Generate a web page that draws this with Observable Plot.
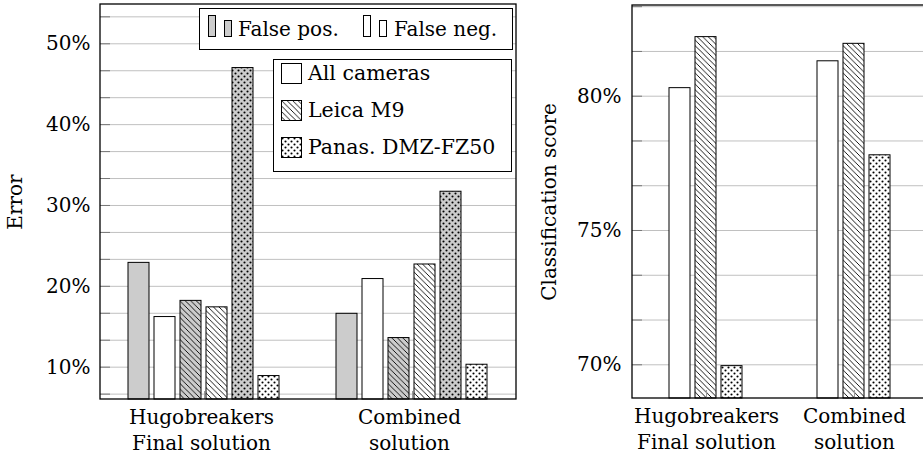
<!DOCTYPE html>
<html><head><meta charset="utf-8">
<script src="https://cdn.jsdelivr.net/npm/d3@7"></script>
<script src="https://cdn.jsdelivr.net/npm/@observablehq/plot@0.6"></script>
<style>
body{margin:0;background:#fff;overflow:hidden}
#wrap{position:relative;width:923px;height:460px;overflow:hidden;font-family:"DejaVu Serif",serif;background:#fff}
#wrap svg{max-width:none}
.box{position:absolute;background:#fff;border:1.2px solid #000;box-sizing:border-box;font-size:20px;color:#000}
.lbl{position:absolute;white-space:nowrap}
</style></head>
<body>
<svg width="0" height="0" style="position:absolute">
<defs>
<pattern id="hatchGray" patternUnits="userSpaceOnUse" width="5.5" height="5.5">
 <rect width="5.5" height="5.5" fill="#cccccc"/>
 <path d="M-1,-1 L6.5,6.5 M-1,4.5 L1,6.5 M4.5,-1 L6.5,1" stroke="#000" stroke-width="0.9"/>
</pattern>
<pattern id="hatchWhite" patternUnits="userSpaceOnUse" width="5.5" height="5.5">
 <rect width="5.5" height="5.5" fill="#ffffff"/>
 <path d="M-1,-1 L6.5,6.5 M-1,4.5 L1,6.5 M4.5,-1 L6.5,1" stroke="#000" stroke-width="0.9"/>
</pattern>
<pattern id="dotsGray" patternUnits="userSpaceOnUse" width="6" height="6">
 <rect width="6" height="6" fill="#cccccc"/>
 <circle cx="1.5" cy="1.5" r="1.05" fill="#000"/>
 <circle cx="4.5" cy="4.5" r="1.05" fill="#000"/>
</pattern>
<pattern id="dotsWhite" patternUnits="userSpaceOnUse" width="6" height="6">
 <rect width="6" height="6" fill="#ffffff"/>
 <circle cx="1.5" cy="1.5" r="1.05" fill="#000"/>
 <circle cx="4.5" cy="4.5" r="1.05" fill="#000"/>
</pattern>
</defs></svg>
<div id="wrap">
  <div id="left" style="position:absolute;left:0;top:0;width:523px"></div>
  <div id="right" style="position:absolute;left:523px;top:0;width:410px"></div>
  <div class="box" id="leg1" style="left:199px;top:8px;width:314px;height:42px;"></div>
  <div class="box" id="leg2" style="left:273px;top:59px;width:239px;height:113px;font-size:20.5px"></div>
</div>
<script>
// ---- data ----
const groups = ["Hugobreakers\nFinal solution", "Combined\nsolution"];
const cameras = ["All cameras", "Leica M9", "Panas. DMZ-FZ50"];
const kinds = ["False pos.", "False neg."];
// Error chart (percent), one value per group
const falsePosAll   = [22.9, 16.6];
const falseNegAll   = [16.2, 20.9];
const falsePosLeica = [18.2, 13.6];
const falseNegLeica = [17.4, 22.7];
const falsePosPanas = [47.0, 31.7];
const falseNegPanas = [8.9, 10.3];
// Classification score chart (percent)
const scoreAll   = [80.3, 81.3];
const scoreLeica = [82.2, 81.95];
const scorePanas = [69.95, 77.8];
// tick labels
const errorTickLabels = [10, 20, 30, 40, 50];
const scoreTickLabels = [70, 75, 80];

// ---- styling lookups ----
const camFill = {
  "All cameras": ["#cccccc", "#ffffff"],
  "Leica M9": ["url(#hatchGray)", "url(#hatchWhite)"],
  "Panas. DMZ-FZ50": ["url(#dotsGray)", "url(#dotsWhite)"]
};
const errValues = {
  "All cameras": [falsePosAll, falseNegAll],
  "Leica M9": [falsePosLeica, falseNegLeica],
  "Panas. DMZ-FZ50": [falsePosPanas, falseNegPanas]
};
const scoreValues = {"All cameras": scoreAll, "Leica M9": scoreLeica, "Panas. DMZ-FZ50": scorePanas};

const errSeries = [];
cameras.forEach(c => kinds.forEach(k => errSeries.push(c + "|" + k)));
const errRows = [];
groups.forEach((g, gi) => cameras.forEach(c => kinds.forEach((k, ki) => {
  errRows.push({group: g, series: c + "|" + k, value: errValues[c][ki][gi], fill: camFill[c][ki]});
})));
const scoreRows = [];
groups.forEach((g, gi) => cameras.forEach(c => {
  scoreRows.push({group: g, series: c, value: scoreValues[c][gi], fill: camFill[c][1]});
}));

const font = {fontFamily: "DejaVu Serif", fontSize: "20px", background: "white", color: "black"};
const near = (a, b) => Math.abs(a - b) < 1e-6;

// ---- left chart ----
const eMin = 6, eMax = 54.86;
const eGrid = d3.range(2, 17).map(i => 10 * i / 3);
const left = Plot.plot({
  width: 523, height: 460,
  marginLeft: 100, marginRight: 7, marginTop: 4, marginBottom: 61,
  style: font,
  facet: {data: errRows, x: "group"},
  fx: {domain: groups, padding: 0, label: null},
  x: {domain: errSeries, paddingInner: 0.18, paddingOuter: 1.01, axis: null},
  y: {domain: [eMin, eMax]},
  color: {type: "identity"},
  marks: [
    Plot.gridY(eGrid, {stroke: "#c0c0c0", strokeOpacity: 1, strokeWidth: 1}),
    Plot.axisY(eGrid, {
      tickSize: -10, tickPadding: 20, stroke: "#777",
      tickFormat: d => errorTickLabels.find(t => near(t, d)) !== undefined ? Math.round(d) + "%" : "",
      label: "Error", labelAnchor: "center", labelArrow: "none", labelOffset: 93
    }),
    Plot.barY(errRows, {x: "series", y1: eMin, y2: "value", fill: "fill", stroke: "black", strokeWidth: 1}),
    Plot.axisFx({anchor: "bottom", tickSize: -8, tickFormat: () => "", stroke: "#999", label: null}),
    Plot.axisFx({anchor: "bottom", tickSize: 0, tickPadding: 6, dx: -3, lineHeight: 1.3, label: null})
  ]
});
d3.select(left).append("rect").attr("x", 100).attr("y", 4).attr("width", 416).attr("height", 395)
  .attr("fill", "none").attr("stroke", "black").attr("stroke-width", 1.3);
document.getElementById("left").appendChild(left);

// ---- right chart ----
const sMin = 68.745, sMax = 83.377;
const sGrid = d3.range(42, 51).map(i => 5 * i / 3);
const right = Plot.plot({
  width: 410, height: 460,
  marginLeft: 109, marginRight: 5, marginTop: 5, marginBottom: 62,
  style: font,
  facet: {data: scoreRows, x: "group"},
  fx: {domain: groups, padding: 0, label: null},
  x: {domain: cameras, paddingInner: 0.19, paddingOuter: 1.367, axis: null},
  y: {domain: [sMin, sMax]},
  color: {type: "identity"},
  marks: [
    Plot.gridY(sGrid, {stroke: "#c0c0c0", strokeOpacity: 1, strokeWidth: 1}),
    Plot.axisY(sGrid, {
      tickSize: -10, tickPadding: 21, stroke: "#777",
      tickFormat: d => scoreTickLabels.find(t => near(t, d)) !== undefined ? Math.round(d) + "%" : "",
      label: "Classification score", labelAnchor: "center", labelArrow: "none", labelOffset: 91
    }),
    Plot.barY(scoreRows, {x: "series", y1: sMin, y2: "value", fill: "fill", stroke: "black", strokeWidth: 1}),
    Plot.axisFx({anchor: "bottom", tickSize: -8, tickFormat: () => "", stroke: "#999", label: null}),
    Plot.axisFx({anchor: "bottom", tickSize: 0, tickPadding: 6, lineHeight: 1.3, label: null})
  ]
});
d3.select(right).append("rect").attr("x", 109).attr("y", 5).attr("width", 296).attr("height", 393)
  .attr("fill", "none").attr("stroke", "black").attr("stroke-width", 1.3);
document.getElementById("right").appendChild(right);

// ---- legends ----
const leg1 = document.getElementById("leg1");
const kindFill = ["#cccccc", "#ffffff"];
const kindLeft = [[8, 38], [163, 194]];
kinds.forEach((k, i) => {
  const s = d3.create("svg").attr("width", 26).attr("height", 26)
    .style("position", "absolute").style("left", kindLeft[i][0] + "px").style("top", "4px");
  s.append("rect").attr("x", 0.5).attr("y", 2.5).attr("width", 7).attr("height", 21).attr("fill", kindFill[i]).attr("stroke", "#000");
  s.append("rect").attr("x", 16.5).attr("y", 7.5).attr("width", 7).attr("height", 16).attr("fill", kindFill[i]).attr("stroke", "#000");
  leg1.appendChild(s.node());
  const t = document.createElement("span");
  t.className = "lbl"; t.textContent = k;
  t.style.left = kindLeft[i][1] + "px"; t.style.top = "0px"; t.style.lineHeight = "40px";
  leg1.appendChild(t);
});
const leg2 = document.getElementById("leg2");
cameras.forEach((c, i) => {
  const top = 3 + i * 37;
  const s = d3.create("svg").attr("width", 22).attr("height", 22)
    .style("position", "absolute").style("left", "7px").style("top", top + "px");
  s.append("rect").attr("x", 0.5).attr("y", 0.5).attr("width", 20).attr("height", 20).attr("fill", camFill[c][1]).attr("stroke", "#000");
  leg2.appendChild(s.node());
  const t = document.createElement("span");
  t.className = "lbl"; t.textContent = c;
  t.style.left = "34px"; t.style.top = (top - 8) + "px"; t.style.lineHeight = "37px";
  leg2.appendChild(t);
});
</script>
</body></html>
